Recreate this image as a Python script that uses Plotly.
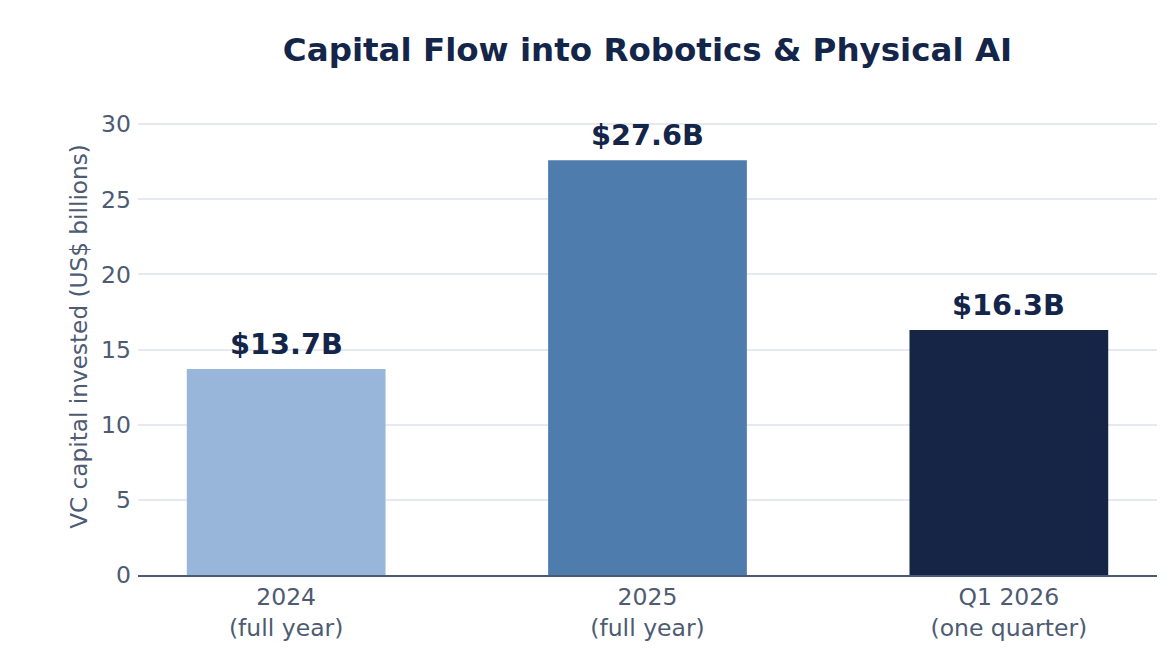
import plotly.graph_objects as go

# values
periods = ["2024<br>(full year)", "2025<br>(full year)", "Q1 2026<br>(one quarter)"]
capital_bn = [13.7, 27.6, 16.3]
value_labels = ["$13.7B", "$27.6B", "$16.3B"]
bar_colors = ["#97b6da", "#4e7cac", "#162546"]

navy = "#14254a"
slate = "#4d5b73"

fig = go.Figure()

fig.add_trace(go.Bar(
    x=periods,
    y=capital_bn,
    width=0.55,
    marker=dict(color=bar_colors, line=dict(width=0)),
    hoverinfo="skip",
    showlegend=False,
))

# value labels above bars
for p, v, lab in zip(periods, capital_bn, value_labels):
    fig.add_annotation(
        x=p, y=v, text="<b>" + lab + "</b>",
        showarrow=False, yanchor="bottom", yshift=6,
        font=dict(size=28.75, color=navy, family="DejaVu Sans"),
    )

# page body has an 8px margin, so the figure is a bit smaller than the window
fig.update_layout(
    width=1162,
    height=648,
    margin=dict(l=130, r=13, t=90, b=81),
    paper_bgcolor="white",
    plot_bgcolor="white",
    font=dict(family="DejaVu Sans", color=slate),
    title=dict(
        text="<b>Capital Flow into Robotics & Physical AI</b>",
        x=0.5, xref="paper", xanchor="center",
        y=1 - 42 / 648, yref="container", yanchor="middle",
        font=dict(size=32.5, color=navy, family="DejaVu Sans"),
    ),
)

fig.update_xaxes(
    range=[-0.41, 2.41],
    showgrid=False,
    showline=True,
    linecolor="#4a5a75",
    linewidth=2,
    tickfont=dict(size=23.5, color=slate),
)

fig.update_yaxes(
    range=[0, 31.74],
    tickvals=[0, 5, 10, 15, 20, 25, 30],
    showgrid=True,
    gridcolor="#e6e9ef",
    gridwidth=1.5,
    zeroline=False,
    ticklabelstandoff=6,
    tickfont=dict(size=23.5, color=slate),
    title=dict(text="VC capital invested (US$ billions)", font=dict(size=23.2, color=slate), standoff=6),
)

fig.write_html("out.html")
